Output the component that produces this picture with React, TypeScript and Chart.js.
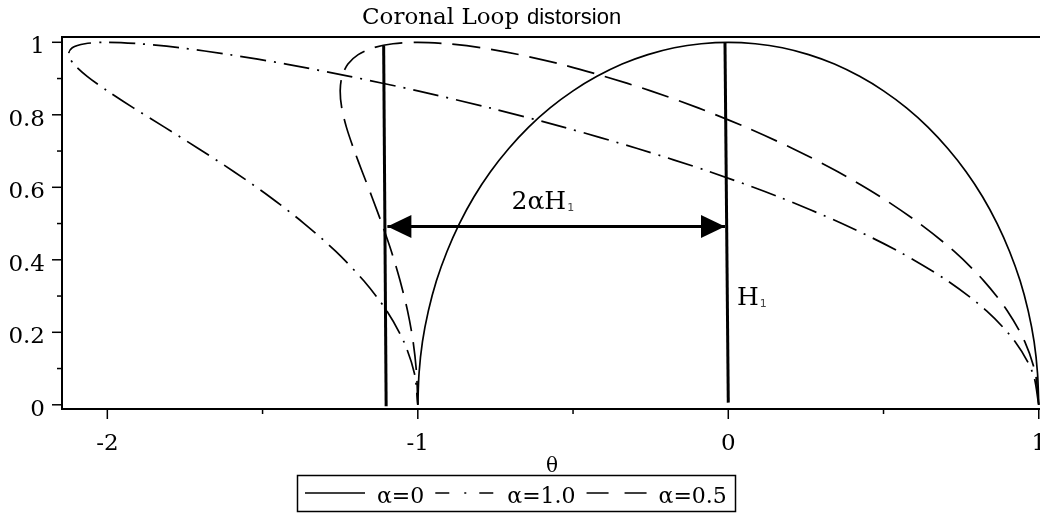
import React, { useEffect, useRef } from 'react';
import { Chart, registerables } from 'chart.js';

Chart.register(...registerables);

// Loop profiles sampled along the loop (shared heights, one x-row per alpha)
const loopY = [0, 0.087, 0.174, 0.259, 0.342, 0.423, 0.5, 0.574, 0.643, 0.707, 0.766, 0.819, 0.866, 0.906, 0.94, 0.966, 0.985, 0.996, 1, 0.996, 0.985, 0.966, 0.94, 0.906, 0.866, 0.819, 0.766, 0.707, 0.643, 0.574, 0.5, 0.423, 0.342, 0.259, 0.174, 0.087, 0];
const loopXAlpha0 = [1, 0.996, 0.985, 0.966, 0.94, 0.906, 0.866, 0.819, 0.766, 0.707, 0.643, 0.574, 0.5, 0.423, 0.342, 0.259, 0.174, 0.087, 0, -0.087, -0.174, -0.259, -0.342, -0.423, -0.5, -0.574, -0.643, -0.707, -0.766, -0.819, -0.866, -0.906, -0.94, -0.966, -0.985, -0.996, -1];
const loopXAlpha05 = [1, 0.989, 0.955, 0.899, 0.823, 0.728, 0.616, 0.49, 0.353, 0.207, 0.056, -0.097, -0.25, -0.399, -0.541, -0.674, -0.796, -0.905, -1, -1.08, -1.143, -1.192, -1.225, -1.244, -1.25, -1.245, -1.23, -1.207, -1.179, -1.148, -1.116, -1.085, -1.057, -1.033, -1.015, -1.004, -1];
const loopXAlpha1 = [1, 0.981, 0.924, 0.832, 0.706, 0.549, 0.366, 0.161, -0.06, -0.293, -0.531, -0.768, -1, -1.22, -1.424, -1.607, -1.766, -1.898, -2, -2.072, -2.113, -2.125, -2.108, -2.065, -2, -1.916, -1.816, -1.707, -1.592, -1.477, -1.366, -1.264, -1.174, -1.1, -1.045, -1.011, -1];

// Height markers and the 2αH1 span
const shiftedMarkerX = [-1.11, -1.102];
const shiftedMarkerY = [0.991, -0.004];
const apexMarkerX = [-0.0106, 0];
const apexMarkerY = [0.999, 0.006];
const spanX = [-1.098, -0.0106];
const spanY = 0.492;

// Axis ticks
const xMajorTicks = [-2, -1, 0, 1];
const xMajorLabels = ['-2', '-1', '0', '1'];
const xMinorTicks = [-1.5, -0.5, 0.5];
const yMajorTicks = [0, 0.2, 0.4, 0.6, 0.8, 1];
const yMajorLabels = ['0', '0.2', '0.4', '0.6', '0.8', '1'];
const yMinorTicks = [0.1, 0.3, 0.5, 0.7, 0.9];

const seriesNames = ['α=0', 'α=1.0', 'α=0.5'];
const titleMain = 'Coronal Loop';
const titleSub = 'distorsion';
const xAxisTitle = 'θ';

const SERIF = '"DejaVu Serif", serif';
const DASH_DOT = [26, 8, 2, 8];
const DASHED = [28, 11];

const pts = (xs: number[], ys: number[]) => xs.map((x, i) => ({ x, y: ys[i] }));

const decorPlugin = {
  id: 'decor',
  afterDraw(chart: any) {
    const { ctx, chartArea } = chart;
    const xs = chart.scales.x;
    const ys = chart.scales.y;
    ctx.save();
    ctx.strokeStyle = '#000';
    ctx.fillStyle = '#000';

    // top frame line
    ctx.lineWidth = 2;
    ctx.beginPath();
    ctx.moveTo(chartArea.left, chartArea.top);
    ctx.lineTo(chartArea.right, chartArea.top);
    ctx.stroke();

    // y ticks
    ctx.lineWidth = 1.5;
    ctx.font = `23px ${SERIF}`;
    ctx.textAlign = 'right';
    ctx.textBaseline = 'alphabetic';
    yMajorTicks.forEach((v, i) => {
      const py = ys.getPixelForValue(v);
      ctx.beginPath();
      ctx.moveTo(chartArea.left - 10, py);
      ctx.lineTo(chartArea.left, py);
      ctx.stroke();
      ctx.fillText(yMajorLabels[i], chartArea.left - 17, py + 11);
    });
    yMinorTicks.forEach((v) => {
      const py = ys.getPixelForValue(v);
      ctx.beginPath();
      ctx.moveTo(chartArea.left - 5, py);
      ctx.lineTo(chartArea.left, py);
      ctx.stroke();
    });

    // x ticks
    ctx.textAlign = 'center';
    xMajorTicks.forEach((v, i) => {
      const px = xs.getPixelForValue(v);
      ctx.beginPath();
      ctx.moveTo(px, chartArea.bottom);
      ctx.lineTo(px, chartArea.bottom + 10);
      ctx.stroke();
      ctx.fillText(xMajorLabels[i], px, chartArea.bottom + 41);
    });
    xMinorTicks.forEach((v) => {
      const px = xs.getPixelForValue(v);
      ctx.beginPath();
      ctx.moveTo(px, chartArea.bottom);
      ctx.lineTo(px, chartArea.bottom + 5);
      ctx.stroke();
    });

    // axis title
    ctx.font = `20px ${SERIF}`;
    ctx.fillText(xAxisTitle, 552, 472);

    // chart title
    ctx.textAlign = 'left';
    ctx.font = `23px ${SERIF}`;
    ctx.fillText(titleMain, 362, 24);
    ctx.font = '22px "Liberation Sans", Arial, sans-serif';
    ctx.fillText(titleSub, 527, 24);

    // arrow heads of the span
    const ay = ys.getPixelForValue(spanY);
    const lx = xs.getPixelForValue(spanX[0]);
    const rx = xs.getPixelForValue(spanX[1]);
    ctx.beginPath();
    ctx.moveTo(lx, ay);
    ctx.lineTo(lx + 24, ay - 11.5);
    ctx.lineTo(lx + 24, ay + 11.5);
    ctx.closePath();
    ctx.fill();
    ctx.beginPath();
    ctx.moveTo(rx, ay);
    ctx.lineTo(rx - 24, ay - 11.5);
    ctx.lineTo(rx - 24, ay + 11.5);
    ctx.closePath();
    ctx.fill();

    // annotations
    const drawH1 = (prefix: string, left: number, base: number, size: number) => {
      ctx.font = `${size}px ${SERIF}`;
      ctx.fillStyle = '#000';
      ctx.fillText(prefix, left, base);
      const w = ctx.measureText(prefix).width;
      ctx.font = '11px "DejaVu Sans", sans-serif';
      ctx.fillStyle = '#444';
      ctx.fillText('1', left + w + 1, base + 2);
      ctx.fillStyle = '#000';
    };
    drawH1('2αH', xs.getPixelForValue(-0.698), ay - 17, 25);
    drawH1('H', xs.getPixelForValue(0.028), ys.getPixelForValue(0.275), 25);

    // legend
    const bx = 297.5, by = 475.5, bw = 438, bh = 36;
    ctx.lineWidth = 1.5;
    ctx.strokeRect(bx, by, bw, bh);
    const legendDash = [[], [14, 15, 2, 13], [22, 16]];
    ctx.font = `22px ${SERIF}`;
    let cx = 305;
    const lyLine = 493;
    seriesNames.forEach((name, i) => {
      ctx.setLineDash(legendDash[i]);
      ctx.lineWidth = 1.6;
      ctx.beginPath();
      ctx.moveTo(cx, lyLine);
      ctx.lineTo(cx + 60, lyLine);
      ctx.stroke();
      ctx.setLineDash([]);
      const tx = cx + 72;
      ctx.fillText(name, tx, 503);
      cx = tx + ctx.measureText(name).width + 11;
    });

    ctx.restore();
  },
};

export default function App() {
  const ref = useRef<HTMLCanvasElement>(null);

  useEffect(() => {
    const canvas = ref.current;
    if (!canvas) return;
    const line = (data: any, dash: number[], width: number) => ({
      data,
      showLine: true,
      borderColor: '#000',
      backgroundColor: '#000',
      borderWidth: width,
      borderDash: dash,
      pointRadius: 0,
      pointHoverRadius: 0,
      fill: false,
      tension: 0.3,
    });
    const chart = new Chart(canvas, {
      type: 'scatter',
      data: {
        datasets: [
          { label: seriesNames[0], ...line(pts(loopXAlpha0, loopY), [], 1.7) },
          { label: seriesNames[1], ...line(pts(loopXAlpha1, loopY), DASH_DOT, 1.7) },
          { label: seriesNames[2], ...line(pts(loopXAlpha05, loopY), DASHED, 1.7) },
          { label: 'shifted', ...line(pts(shiftedMarkerX, shiftedMarkerY), [], 3), tension: 0 },
          { label: 'apex', ...line(pts(apexMarkerX, apexMarkerY), [], 3), tension: 0 },
          { label: 'span', ...line(pts(spanX, [spanY, spanY]), [], 3), tension: 0 },
        ],
      },
      options: {
        responsive: false,
        animation: false,
        devicePixelRatio: 1,
        layout: { padding: { top: 37, left: 0, right: 0, bottom: 0 } },
        plugins: {
          legend: { display: false },
          tooltip: { enabled: false },
          title: { display: false },
        },
        events: [],
        scales: {
          x: {
            type: 'linear',
            min: -2.146,
            max: 1.004,
            ticks: { display: false },
            grid: { display: false, drawTicks: false },
            border: { display: true, color: '#000', width: 2 },
            afterFit: (s: any) => {
              s.height = 104;
              s.paddingLeft = 0;
              s.paddingRight = 0;
            },
          },
          y: {
            type: 'linear',
            min: -0.0116,
            max: 1.0146,
            ticks: { display: false },
            grid: { display: false, drawTicks: false },
            border: { display: true, color: '#000', width: 2 },
            afterFit: (s: any) => {
              s.width = 62;
              s.paddingTop = 0;
              s.paddingBottom = 0;
            },
          },
        },
      },
      plugins: [decorPlugin],
    } as any);
    return () => chart.destroy();
  }, []);

  return (
    <div style={{ position: 'absolute', left: 0, top: 0, width: 1040, height: 513, background: '#fff' }}>
      <canvas ref={ref} width={1040} height={513} style={{ display: 'block', width: 1040, height: 513 }} />
    </div>
  );
}
